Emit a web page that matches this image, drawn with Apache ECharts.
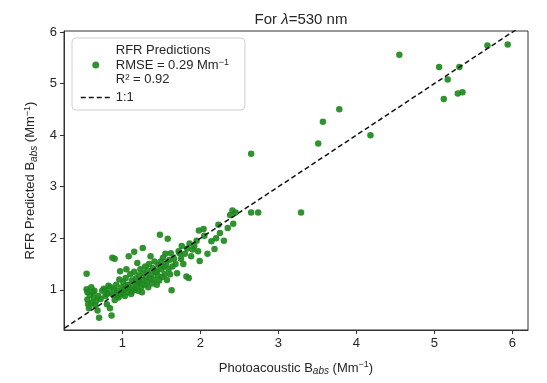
<!DOCTYPE html>
<html>
<head>
<meta charset="utf-8">
<script src="https://cdn.jsdelivr.net/npm/echarts@6/dist/echarts.min.js"></script>
<style>html,body{margin:0;padding:0;background:#fff}#c{width:547px;height:383px}</style>
</head>
<body>
<div id="c"></div>
<script>
// Photoacoustic Babs (x) vs RFR predicted Babs (y)
const obsX = [
0.54,0.54,0.55,0.57,0.58,0.60,0.62,0.63,0.65,0.66,0.68,0.70,0.72,0.55,0.60,0.56,0.64,0.69,
0.74,0.76,0.78,0.80,0.82,0.84,0.86,0.85,0.87,0.90,0.88,0.90,0.92,0.93,0.95,0.96,0.97,0.98,0.99,0.78,0.82,0.89,0.94,0.80,
1.00,1.01,1.02,1.03,1.04,1.05,1.06,1.07,1.08,1.09,1.10,1.11,1.12,1.13,1.15,1.15,1.16,1.17,1.18,1.19,1.20,1.21,1.22,1.23,1.24,1.25,1.26,1.27,1.28,1.29,1.30,1.05,1.12,1.20,1.25,
1.31,1.32,1.33,1.34,1.35,1.36,1.37,1.38,1.39,1.40,1.41,1.42,1.44,1.44,1.45,1.46,1.48,1.47,1.49,1.50,1.51,1.52,1.53,1.54,1.55,1.56,1.57,1.58,1.59,1.60,1.62,1.63,1.61,
1.64,1.66,1.68,1.70,1.72,1.73,1.75,1.76,1.78,1.80,1.82,1.83,1.85,1.86,1.88,1.90,1.92,1.95,1.98,1.99,1.97,
2.04,2.05,2.09,2.14,2.18,2.20,2.23,2.25,2.30,2.35,2.41,2.42,2.38,2.45,
2.65,2.65,2.74,3.29,3.51,3.57,3.78,4.18,4.55,5.06,5.32,5.17,5.12,5.30,5.36,5.68,5.94
];
const predY = [
1.31,1.01,0.81,0.64,0.90,0.75,0.95,0.85,0.70,0.78,0.60,0.46,0.82,0.95,1.05,0.72,0.98,0.88,
0.98,1.02,0.88,0.72,0.94,0.64,0.50,1.05,1.62,1.60,0.90,0.80,1.10,0.98,0.85,1.20,1.36,0.92,1.05,1.00,1.08,1.00,0.90,0.92,
0.95,1.15,1.00,0.88,1.23,1.40,0.95,1.10,1.65,1.02,1.30,0.92,1.18,1.05,1.74,1.35,1.00,1.22,1.10,1.52,0.98,1.28,1.15,1.40,1.05,1.20,1.81,1.32,1.10,1.45,1.25,1.08,0.96,1.12,0.95,
1.15,1.38,1.05,1.50,1.22,1.65,1.30,1.12,1.42,1.20,1.55,1.35,1.36,1.10,1.28,1.48,2.07,1.18,1.55,1.40,1.25,1.62,1.45,1.30,1.70,1.50,1.19,1.99,1.40,1.58,1.71,0.99,1.30,
1.45,1.60,1.50,1.32,1.75,1.71,1.60,1.85,1.50,1.70,1.26,1.80,1.23,1.90,1.65,1.78,1.85,1.95,2.15,1.56,1.75,
2.18,2.05,1.70,1.94,1.79,2.00,2.26,2.10,1.95,2.20,2.54,2.28,2.45,2.50,
3.64,2.50,2.50,2.50,3.84,4.26,4.50,4.00,5.56,5.32,5.32,5.08,4.70,4.81,4.83,5.74,5.76
];
const oneToOne = [0, 7];
const xTicks = [1, 2, 3, 4, 5, 6];
const yTicks = [1, 2, 3, 4, 5, 6];

const TXT = '#262626';
const FONT = '"Liberation Sans", Arial, sans-serif';
const scatterData = obsX.map((x, i) => [x, predY[i]]);
const lineData = oneToOne.map(v => [v, v]);

const chart = echarts.init(document.getElementById('c'));
const nameRich = {
  n: {fontSize: 13, color: TXT, fontFamily: FONT},
  sub: {fontSize: 10, fontStyle: 'italic', color: TXT, fontFamily: FONT, verticalAlign: 'bottom', padding: [6, 0, 0, 0]},
  sup: {fontSize: 9, color: TXT, fontFamily: FONT, verticalAlign: 'top', padding: [0, 0, 6, 0]}
};
chart.setOption({
  animation: false,
  textStyle: {fontFamily: FONT},
  title: {
    text: '{n|For }{l|λ}{n|=530 nm}',
    left: 296, top: 7, textAlign: 'center',
    textStyle: {
      fontWeight: 'normal',
      rich: {
        n: {fontSize: 15, color: TXT, fontFamily: FONT, fontWeight: 'normal'},
        l: {fontSize: 15, color: TXT, fontFamily: FONT, fontStyle: 'italic', fontWeight: 'normal'}
      }
    }
  },
  grid: {left: 64, right: 19, top: 31, bottom: 53, show: true, borderColor: '#333', borderWidth: 1, backgroundColor: 'transparent'},
  legend: {
    orient: 'vertical', left: 72, top: 38,
    backgroundColor: '#fff', borderColor: '#d0d0d0', borderWidth: 1, borderRadius: 4,
    padding: [6, 16, 6, 8], itemGap: 5, itemWidth: 30, itemHeight: 7,
    data: [
      {name: 'RFR', icon: 'circle', itemStyle: {color: '#1e8a1e'}},
      {name: '1:1', itemStyle: {opacity: 0}, lineStyle: {color: '#111', width: 1.5, type: [5, 3]}}
    ],
    formatter: function (name) {
      if (name === 'RFR') return '{n|RFR Predictions}\n{n|RMSE = 0.29 Mm}{s|−1}\n{n|R² = 0.92}';
      return '{n|1:1}';
    },
    textStyle: {
      rich: {
        n: {fontSize: 13, color: TXT, fontFamily: FONT, lineHeight: 14.5},
        s: {fontSize: 9, color: TXT, fontFamily: FONT, verticalAlign: 'top', lineHeight: 14.5, padding: [0, 0, 5, 0]}
      }
    }
  },
  xAxis: {
    type: 'value', min: 0.25, max: 6.2,
    name: '{n|Photoacoustic B}{sub|abs}{n| (Mm}{sup|−1}{n|)}',
    nameLocation: 'middle', nameGap: 30,
    nameTextStyle: {rich: nameRich},
    axisLine: {show: true, lineStyle: {color: '#333', width: 1}},
    axisTick: {show: true, length: 4, customValues: xTicks, lineStyle: {color: '#333'}},
    axisLabel: {customValues: xTicks, color: TXT, fontSize: 13, margin: 7, fontFamily: FONT},
    splitLine: {show: false}
  },
  yAxis: {
    type: 'value', min: 0.22, max: 6.02,
    name: '{n|RFR Predicted B}{sub|abs}{n| (Mm}{sup|−1}{n|)}',
    nameLocation: 'middle', nameGap: 22, nameRotate: 90,
    nameTextStyle: {rich: nameRich},
    axisLine: {show: true, lineStyle: {color: '#333', width: 1}},
    axisTick: {show: true, length: 4, customValues: yTicks, lineStyle: {color: '#333'}},
    axisLabel: {customValues: yTicks, color: TXT, fontSize: 13, margin: 7, fontFamily: FONT},
    splitLine: {show: false}
  },
  series: [
    {
      name: 'RFR', type: 'scatter', data: scatterData,
      symbolSize: 6.5, itemStyle: {color: '#1e8a1e', opacity: 0.92}, z: 2
    },
    {
      name: '1:1', type: 'line', data: lineData, symbol: 'none', showSymbol: false,
      itemStyle: {color: '#111'},
      lineStyle: {color: '#111', width: 1.5, type: [5, 3]}, z: 3, clip: true
    }
  ]
});
</script>
</body>
</html>
